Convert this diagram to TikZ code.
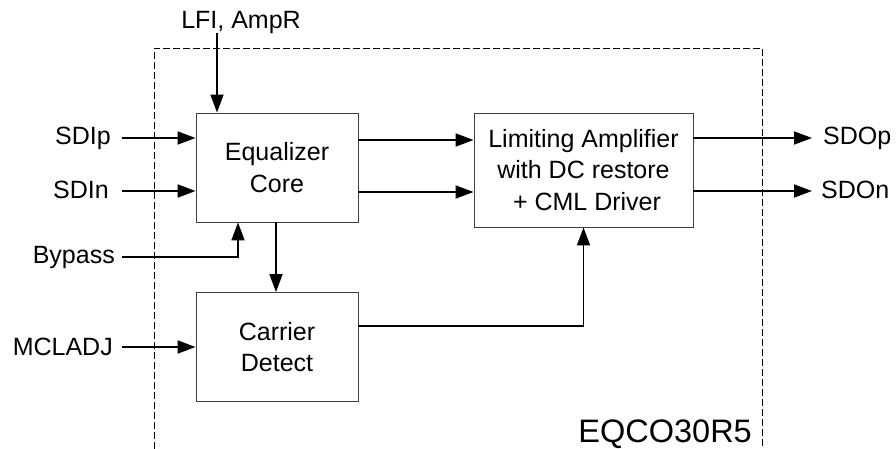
\documentclass[tikz,border=0pt]{standalone}
\usepackage{fontspec}
\setmainfont{Liberation Sans}
\usetikzlibrary{arrows.meta}
\begin{document}
\begin{tikzpicture}[x=1pt,y=-1pt,
  blockbox/.style={draw=black!75,line width=0.9pt,minimum width=162pt,minimum height=109pt,inner sep=0pt,align=center,font=\fontsize{25}{31.5}\selectfont},
  lbl/.style={inner sep=0pt,font=\fontsize{25}{28}\selectfont},
  arr/.style={line width=1.8pt,-{Triangle[length=18pt,width=13pt]}},
  frame/.style={line width=0.8pt,dash pattern=on 7pt off 3pt}]
\useasboundingbox (0,0) rectangle (896,449);
% frame
\coordinate (fbl) at (154,449);
\coordinate (ftl) at (154,48);
\coordinate (ftr) at (762,48);
\coordinate (fbr) at (762,449);
\draw[frame] (fbl) -- (ftl) -- (ftr) -- (fbr);
% blocks
\node[blockbox] (eq) at (277,167.5) {Equalizer\\Core};
\node[blockbox,minimum width=219pt,minimum height=114pt] (la) at (583.5,170) {Limiting Amplifier\\with DC restore\\\ + CML Driver};
\node[blockbox] (cd) at (277,347) {Carrier\\Detect};
% labels
\node[lbl] (lfi) at (241,22) {LFI, AmpR};
\node[lbl,anchor=east] (sdip) at (111,138) {SDIp};
\node[lbl,anchor=east] (sdin) at (109,190) {SDIn};
\node[lbl,anchor=east] (byp) at (115,257) {Bypass};
\node[lbl,anchor=east] (mcl) at (113,347) {MCLADJ};
\node[lbl,anchor=west] (sdop) at (823,138) {SDOp};
\node[lbl,anchor=west] (sdon) at (821,190) {SDOn};
\node[inner sep=0pt,font=\fontsize{32.5}{36}\selectfont,anchor=base east] (name) at (752,442) {EQCO30R5};
% connector points
\coordinate (a1) at (122,138);
\coordinate (a2) at (122,191);
\coordinate (a3) at (122,257);
\coordinate (a4) at (122,347);
\coordinate (lt) at (217,33);
\coordinate (m1) at (400,140);
\coordinate (m2) at (400,192);
\coordinate (o1) at (812,138);
\coordinate (o2) at (812,191);
\coordinate (byx) at (238,222);
\coordinate (cdo) at (358,326);
% connectors
\draw[arr] (a1) -- (a1 -| eq.west);
\draw[arr] (a2) -- (a2 -| eq.west);
\draw[arr] (lt) -- (lt |- eq.north);
\draw[arr] (a3) -| (byx |- eq.south);
\draw[arr] (a4) -- (a4 -| cd.west);
\draw[arr] ([xshift=-1pt]eq.south) -- ([xshift=-1pt]cd.north);
\draw[arr] (m1 -| eq.east) -- (m1 -| la.west);
\draw[arr] (m2 -| eq.east) -- (m2 -| la.west);
\draw[arr] (la.east |- o1) -- (o1);
\draw[arr] (la.east |- o2) -- (o2);
\draw[arr] (cdo -| cd.east) -| (la.south);
\end{tikzpicture}
\end{document}
